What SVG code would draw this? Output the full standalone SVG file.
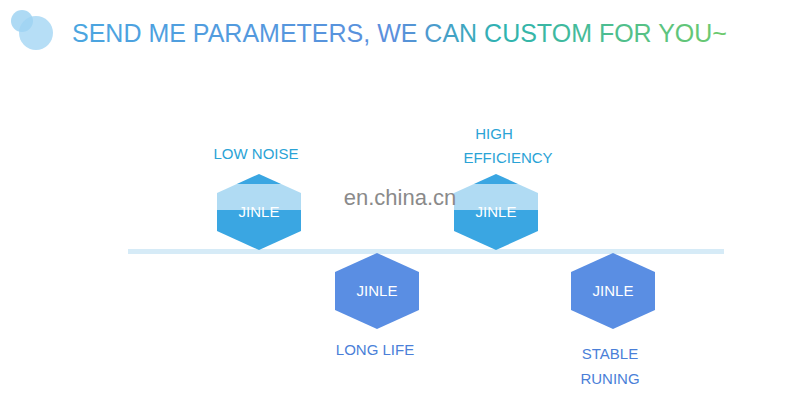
<svg xmlns="http://www.w3.org/2000/svg" width="800" height="411" viewBox="0 0 800 411">
<defs>
<linearGradient id="tg" x1="72" y1="0" x2="790" y2="0" gradientUnits="userSpaceOnUse">
<stop offset="0" stop-color="#4aa6e0"/><stop offset="0.45" stop-color="#5b8fdc"/><stop offset="0.6" stop-color="#2fb3b0"/><stop offset="1" stop-color="#7fd05a"/>
</linearGradient>
<polygon id="hex" points="0,-38 42,-19 42,19 0,38 -42,19 -42,-19"/>
</defs>
<style>
.up{fill:#3aa6e2}.dn{fill:#5a8ee3}
.hl{font-family:"Liberation Sans",Arial,sans-serif;font-size:15px;fill:#fff;text-anchor:middle}
.lb{font-family:"Liberation Sans",Arial,sans-serif;font-size:15px;fill:#2aa3d6;text-anchor:middle}
.lb2{font-family:"Liberation Sans",Arial,sans-serif;font-size:15px;fill:#4a7fd8;text-anchor:middle}
</style>
<rect width="800" height="411" fill="#fff"/>
<circle cx="22" cy="21" r="11" fill="#8ccaf0" opacity="0.7"/>
<circle cx="36" cy="33" r="17" fill="#9ed3f3" opacity="0.75"/>
<text x="72" y="42" font-family="'Liberation Sans',Arial,sans-serif" font-size="25" fill="url(#tg)">SEND ME PARAMETERS, WE CAN CUSTOM FOR YOU~</text>
<g id="connectors"><rect x="128" y="249" width="596" height="5" fill="#d6ebf7"/></g>
<g id="n1"><use href="#hex" class="up" x="259" y="212"/><text class="hl" x="259" y="217">JINLE</text><text class="lb" x="256" y="159">LOW NOISE</text></g>
<g id="n2"><use href="#hex" class="dn" x="377" y="291"/><text class="hl" x="377" y="296">JINLE</text><text class="lb2" x="375" y="355">LONG LIFE</text></g>
<g id="n3"><use href="#hex" class="up" x="496" y="212"/><text class="hl" x="496" y="217">JINLE</text><text class="lb" x="494" y="139">HIGH</text><text class="lb" x="508" y="163">EFFICIENCY</text></g>
<g id="n4"><use href="#hex" class="dn" x="613" y="291"/><text class="hl" x="613" y="296">JINLE</text><text class="lb2" x="610" y="359">STABLE</text><text class="lb2" x="610" y="384">RUNING</text></g>
<rect x="215" y="184" width="330" height="26" fill="#fff" opacity="0.6"/>
<text x="400" y="205" font-family="'Liberation Sans',Arial,sans-serif" font-size="22" fill="#8a8a8a" text-anchor="middle">en.china.cn</text>
</svg>
